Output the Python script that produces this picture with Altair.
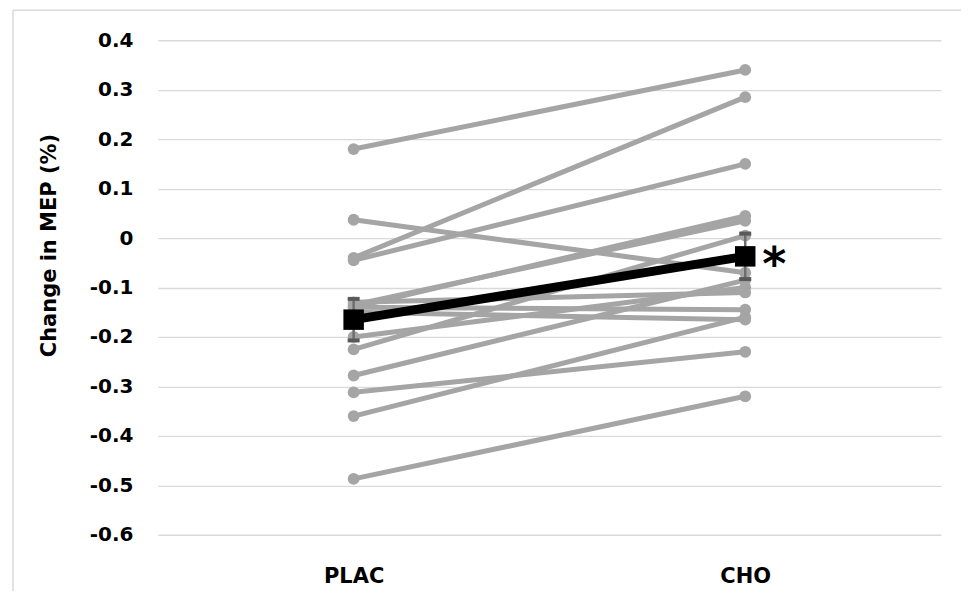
import altair as alt
import pandas as pd

conditions = ["PLAC", "CHO"]
plac = [0.18, -0.04, -0.045, 0.037, -0.14, -0.135, -0.225, -0.278, -0.36, -0.312, -0.487, -0.13, -0.2, -0.14, -0.15]
cho = [0.34, 0.285, 0.15, -0.07, 0.045, 0.035, 0.005, -0.085, -0.16, -0.23, -0.32, -0.11, -0.1, -0.145, -0.165]
mean_vals = [-0.165, -0.037]
se_vals = [0.042, 0.046]
y_ticks = [0.4, 0.3, 0.2, 0.1, 0.0, -0.1, -0.2, -0.3, -0.4, -0.5, -0.6]
star_label = "*"

FONT = "DejaVu Sans"

rows = []
for i, (a, b) in enumerate(zip(plac, cho)):
    rows.append({"subject": i, "condition": conditions[0], "value": a})
    rows.append({"subject": i, "condition": conditions[1], "value": b})
indiv = pd.DataFrame(rows)

means = pd.DataFrame({
    "condition": conditions,
    "value": mean_vals,
    "lo": [m - s for m, s in zip(mean_vals, se_vals)],
    "hi": [m + s for m, s in zip(mean_vals, se_vals)],
})
star = pd.DataFrame({"condition": [conditions[1]], "value": [mean_vals[1]], "label": [star_label]})

xscale = alt.Scale(type="point", padding=0.5, domain=conditions)
yscale = alt.Scale(domain=[-0.6, 0.4], nice=False, zero=False)

x_axis = alt.Axis(title=None, labelAngle=0, domain=False, ticks=False, grid=False,
                  labelFont=FONT, labelFontSize=21, labelFontWeight="bold",
                  labelColor="black", labelPadding=31)
y_axis = alt.Axis(title="Change in MEP (%)", values=y_ticks,
                  labelExpr="datum.value == 0 ? '0' : (datum.value < 0 ? '-' : '') + format(abs(datum.value), '.1f')",
                  domain=False, ticks=False, grid=True, gridColor="#D9D9D9", gridWidth=1.3,
                  labelFont=FONT, labelFontSize=20, labelFontWeight="bold", labelColor="black",
                  labelPadding=25, titleFont=FONT, titleFontSize=21, titleFontWeight="bold",
                  titleColor="black", titlePadding=30, titleY=205)


def X():
    return alt.X("condition:N", scale=xscale, axis=x_axis, sort=conditions)


def Y(field):
    return alt.Y(field, scale=yscale, axis=y_axis)


base = alt.Chart(indiv)

lines = base.mark_line(color="#A5A5A5", strokeWidth=5).encode(
    x=X(), y=Y("value:Q"), detail="subject:N",
)
dots = base.mark_circle(color="#A5A5A5", opacity=1, size=140).encode(
    x=X(), y=Y("value:Q"),
)

mbase = alt.Chart(means)
err = mbase.mark_rule(color="#6E6E6E", strokeWidth=2.5).encode(
    x=X(), y=Y("lo:Q"), y2="hi:Q",
)
cap_lo = mbase.mark_tick(color="#595959", size=12, thickness=4, opacity=1).encode(
    x=X(), y=Y("lo:Q"),
)
cap_hi = mbase.mark_tick(color="#595959", size=12, thickness=4, opacity=1).encode(
    x=X(), y=Y("hi:Q"),
)
mline = mbase.mark_line(color="black", strokeWidth=9).encode(
    x=X(), y=Y("value:Q"),
)
msq = mbase.mark_square(color="black", size=420, opacity=1).encode(
    x=X(), y=Y("value:Q"),
)
stext = alt.Chart(star).mark_text(font=FONT, fontSize=46, fontWeight="bold", color="black",
                                  dx=29, dy=24, align="center", baseline="alphabetic").encode(
    x=X(), y=Y("value:Q"), text="label:N",
)

frame_left = alt.Chart(star).mark_rule(color="#D9D9D9", strokeWidth=1.5).encode(
    x=alt.value(-145), y=alt.value(-30), y2=alt.value(600))
frame_top = alt.Chart(star).mark_rule(color="#D9D9D9", strokeWidth=1.5).encode(
    x=alt.value(-145), x2=alt.value(900), y=alt.value(-30))

chart = alt.layer(lines, dots, err, cap_lo, cap_hi, mline, msq, stext, frame_left, frame_top).properties(
    width=784, height=495,
    padding={"left": 150, "top": 32, "right": 20, "bottom": 56},
    autosize=alt.AutoSizeParams(type="none"),
    background="white",
).configure_view(stroke=None)

chart.save("out.html", embed_options={"renderer": "svg", "actions": False})
